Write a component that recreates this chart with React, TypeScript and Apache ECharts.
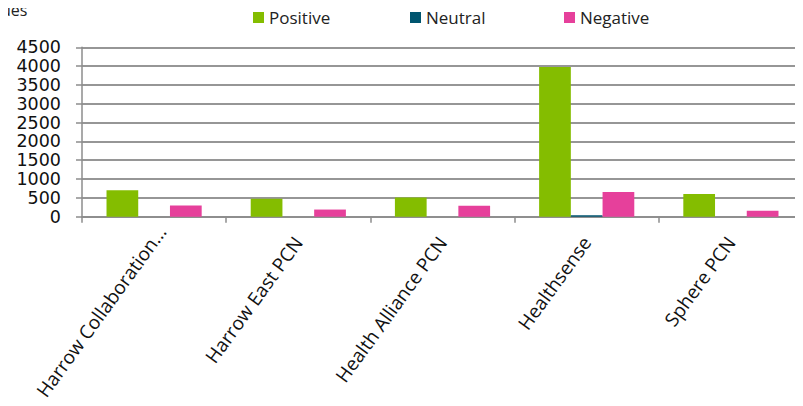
import React, { useEffect, useRef } from "react";
import * as echarts from "echarts";

const categories = [
  "Harrow Collaboration...",
  "Harrow East PCN",
  "Health Alliance PCN",
  "Healthsense",
  "Sphere PCN",
];
const positiveValues = [700, 480, 510, 3975, 600];
const neutralValues = [0, 0, 0, 40, 0];
const negativeValues = [295, 190, 290, 655, 155];
const seriesNames = ["Positive", "Neutral", "Negative"];
const seriesColors = ["#84BD00", "#00556F", "#E6409B"];
const yTicks = { min: 0, max: 4500, interval: 500 };
const titleText = "ues";

const FONT = "'Open Sans', 'Noto Sans', sans-serif";

export default function App() {
  const ref = useRef<HTMLDivElement>(null);
  useEffect(() => {
    if (!ref.current) return;
    const chart = echarts.init(ref.current, undefined, { renderer: "svg" });
    const legendLefts = [253, 410, 564];
    const dataSets = [positiveValues, neutralValues, negativeValues];
    const categoryData = categories.map((c, i) =>
      i === 0 ? { value: c, textStyle: { padding: [0, -13, 0, 0] } } : c
    );
    chart.setOption({
      animation: false,
      textStyle: { fontFamily: FONT },
      title: {
        text: titleText,
        left: 1,
        top: 2,
        padding: 0,
        textStyle: {
          fontSize: 16,
          fontWeight: "normal",
          color: "#222",
          fontFamily: FONT,
        },
      },
      legend: seriesNames.map((n, i) => ({
        data: [n],
        left: legendLefts[i],
        top: 9,
        padding: 0,
        itemWidth: 11,
        itemHeight: 11,
        itemGap: 5,
        icon: "rect",
        textStyle: { fontSize: 17, color: "#222", fontFamily: FONT },
      })),
      grid: { left: 82, top: 47.3, bottom: 189.3, width: 727, containLabel: false },
      xAxis: {
        type: "category",
        data: categoryData,
        axisLine: { lineStyle: { color: "#8c8c8c", width: 1.5 } },
        axisTick: { show: true, length: 6, lineStyle: { color: "#8c8c8c", width: 1.5 } },
        axisLabel: {
          rotate: 54,
          interval: 0,
          fontSize: 19,
          color: "#111",
          fontFamily: FONT,
          margin: 22,
        },
      },
      yAxis: {
        type: "value",
        min: yTicks.min,
        max: yTicks.max,
        interval: yTicks.interval,
        axisLine: { show: true, lineStyle: { color: "#8c8c8c", width: 1.5 } },
        axisTick: { show: true, length: 6, lineStyle: { color: "#8c8c8c", width: 1.5 } },
        splitLine: { lineStyle: { color: "#969696", width: 2 } },
        axisLabel: {
          fontSize: 17.5,
          lineHeight: 17.5,
          color: "#111",
          fontFamily: "'DejaVu Sans', sans-serif",
          margin: 21,
          formatter: (v: number) => String(v),
        },
      },
      series: seriesNames.map((n, i) => ({
        name: n,
        type: "bar",
        data: dataSets[i],
        barGap: "0%",
        barCategoryGap: "34%",
        itemStyle: { color: seriesColors[i] },
      })),
    });
    return () => chart.dispose();
  }, []);
  return <div ref={ref} style={{ width: 803, height: 406, margin: -8 }} />;
}
